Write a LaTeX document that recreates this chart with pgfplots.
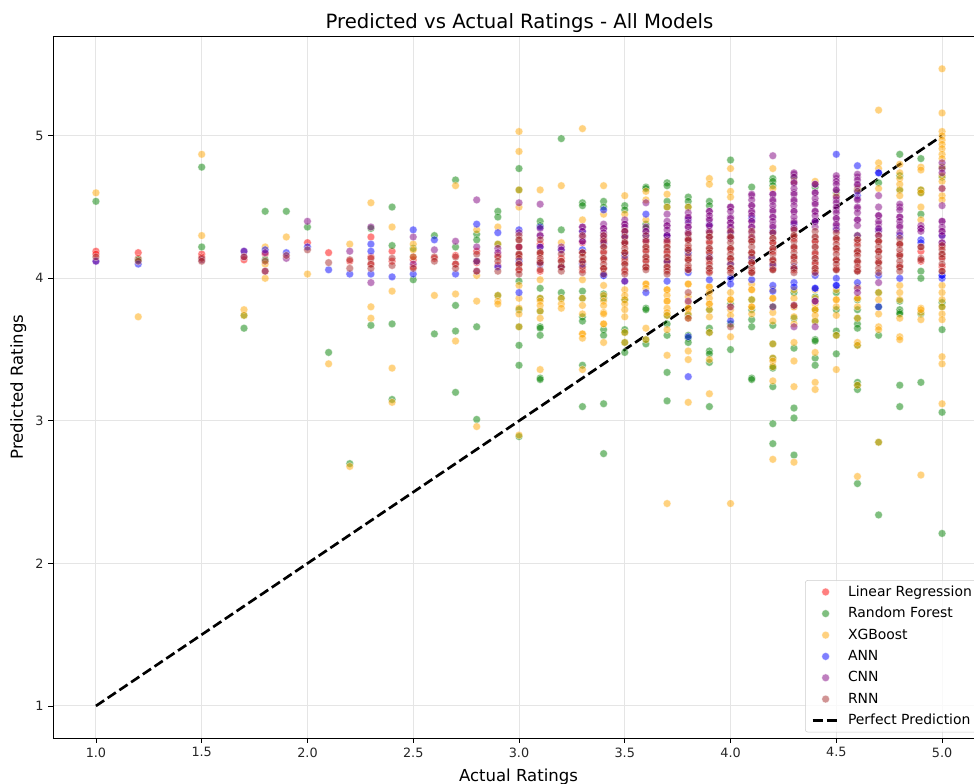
\documentclass[border=0pt]{standalone}
\usepackage{pgfplots}
\pgfplotsset{compat=1.18}
\usepackage{fontspec}
\setmainfont{DejaVu Sans}
\definecolor{cgreen}{HTML}{008000}
\definecolor{corange}{HTML}{FFA500}
\definecolor{cpurple}{HTML}{800080}
\definecolor{cbrown}{HTML}{A52A2A}
\pgfplotsset{pt/.style={only marks, mark=*, mark size=2.9pt,
  mark options={fill=#1, draw=white, line width=.4pt, fill opacity=.5, draw opacity=.5}}}
\begin{document}
\begin{tikzpicture}
\path[use as bounding box] (-39.75pt,-33.75pt) rectangle (690.75pt,553.5pt);
\begin{axis}[
  scale only axis, width=690.75pt, height=526.5pt,
  xmin=0.797, xmax=5.151, ymin=0.775, ymax=5.70,
  axis x line*=box, axis y line*=left,
  axis line style={line width=.55pt},
  xtick pos=bottom,
  tick align=outside, tick style={black, line width=.55pt}, major tick length=3.6pt,
  xtick={1,1.5,2,2.5,3,3.5,4,4.5,5}, ytick={1,2,3,4,5},
  xticklabel style={/pgf/number format/.cd, fixed, fixed zerofill, precision=1},
  /pgf/number format/assume math mode=true,
  ticklabel style={font=\fontsize{9.6pt}{11pt}\selectfont, color=black!85},
  grid=major, grid style={line width=.7pt, color=black!10},
  title={Predicted vs Actual Ratings - All Models},
  title style={font=\fontsize{14.75pt}{17pt}\selectfont, yshift=-7.25pt, xshift=4.5pt},
  xlabel={Actual Ratings}, ylabel={Predicted Ratings},
  xlabel style={yshift=-2pt, xshift=3.75pt},
  label style={font=\fontsize{12.4pt}{15pt}\selectfont},
  legend cell align=left,
  legend image code/.code={\draw[mark repeat=2,mark phase=2,#1] plot coordinates {(0cm,0cm) (0.34cm,0cm) (0.68cm,0cm)};},
  legend style={at={(rel axis cs:0.8165,0.225)}, anchor=north west,
    draw=black!20, fill=white, fill opacity=.8, text opacity=1, rounded corners=2pt,
    font=\fontsize{10.45pt}{16pt}\selectfont, row sep=2.8pt, inner xsep=4.6pt, inner ysep=2pt,
    /tikz/every odd column/.append style={column sep=4.1pt}},
]
\addplot[pt=red] table {
x y
1.0 4.19
1.0 4.17
1.2 4.18
1.2 4.14
1.5 4.17
1.5 4.15
1.7 4.13
1.8 4.17
2.0 4.25
2.1 4.18
2.2 4.12
2.3 4.29
2.3 4.15
2.3 4.10
2.4 4.19
2.4 4.12
2.5 4.13
2.5 4.08
2.6 4.14
2.7 4.16
2.7 4.10
2.8 4.19
2.8 4.11
2.9 4.16
2.9 4.09
3.0 4.22
3.0 4.16
3.0 4.10
3.0 4.06
3.1 4.24
3.1 4.17
3.1 4.12
3.1 4.05
3.2 4.14
3.2 4.08
3.3 4.25
3.3 4.18
3.3 4.11
3.3 4.06
3.4 4.27
3.4 4.19
3.4 4.13
3.4 4.07
3.5 4.24
3.5 4.18
3.5 4.12
3.5 4.05
3.6 4.26
3.6 4.20
3.6 4.13
3.6 4.08
3.7 4.25
3.7 4.18
3.7 4.11
3.7 4.06
3.8 4.27
3.8 4.21
3.8 4.14
3.8 4.07
3.9 4.26
3.9 4.19
3.9 4.12
3.9 4.05
4.0 4.28
4.0 4.20
4.0 4.13
4.0 4.06
4.1 4.27
4.1 4.18
4.1 4.11
4.1 4.05
4.2 4.25
4.2 4.19
4.2 4.12
4.2 4.07
4.3 4.28
4.3 4.21
4.3 4.14
4.3 4.06
4.4 4.26
4.4 4.17
4.4 4.10
4.4 4.05
4.5 4.27
4.5 4.20
4.5 4.13
4.5 4.07
4.6 4.25
4.6 4.18
4.6 4.11
4.6 4.06
4.7 4.26
4.7 4.19
4.7 4.12
4.8 4.24
4.8 4.17
4.8 4.09
4.9 4.19
4.9 4.12
5.0 4.22
5.0 4.15
5.0 4.08
};
\addlegendentry{Linear Regression}
\addplot[pt=cgreen] table {
x y
1.0 4.54
1.5 4.78
1.5 4.22
1.2 4.13
1.7 3.74
1.7 3.65
1.8 4.47
1.8 4.13
1.9 4.47
2.0 4.36
2.1 3.48
2.2 2.70
2.3 4.35
2.3 3.67
2.4 4.50
2.4 4.23
2.4 3.68
2.4 3.15
2.5 3.99
2.5 4.21
2.6 4.30
2.6 3.61
2.7 4.69
2.7 4.22
2.7 3.81
2.7 3.63
2.7 3.20
2.8 4.31
2.8 3.66
2.8 3.01
2.8 4.27
2.9 4.47
2.9 4.43
2.9 4.24
2.9 3.88
3.0 4.77
3.0 4.62
3.0 3.98
3.0 3.78
3.0 3.66
3.0 3.53
3.0 3.39
3.0 2.89
3.1 4.40
3.1 4.37
3.1 3.93
3.1 3.86
3.1 3.77
3.1 3.66
3.1 3.65
3.1 3.60
3.1 3.30
3.1 3.29
3.2 4.98
3.2 4.34
3.2 3.90
3.2 3.86
3.3 4.53
3.3 4.51
3.3 3.91
3.3 3.86
3.3 3.73
3.3 3.70
3.3 3.39
3.3 3.10
3.4 4.54
3.4 4.50
3.4 3.89
3.4 3.86
3.4 3.64
3.4 3.60
3.4 3.12
3.4 2.77
3.5 4.51
3.5 4.48
3.5 3.85
3.5 3.64
3.5 3.62
3.5 3.55
3.5 3.48
3.6 4.64
3.6 4.63
3.6 4.38
3.6 4.35
3.6 3.79
3.6 3.78
3.6 3.57
3.6 3.54
3.7 4.67
3.7 4.65
3.7 4.54
3.7 4.50
3.7 3.74
3.7 3.68
3.7 3.60
3.7 3.34
3.7 3.14
3.8 4.57
3.8 4.54
3.8 4.50
3.8 3.60
3.8 3.58
3.8 3.55
3.8 3.74
3.9 4.54
3.9 4.51
3.9 3.78
3.9 3.65
3.9 3.62
3.9 3.49
3.9 3.47
3.9 3.41
3.9 3.10
4.0 4.83
4.0 4.68
4.0 3.82
4.0 3.68
4.0 3.50
4.1 4.64
4.1 3.85
4.1 3.78
4.1 3.71
4.1 3.66
4.1 3.30
4.1 3.29
4.2 4.70
4.2 4.68
4.2 4.65
4.2 3.80
4.2 3.67
4.2 3.54
4.2 3.44
4.2 3.38
4.2 3.37
4.2 3.24
4.2 2.98
4.2 2.84
4.3 4.71
4.3 3.90
4.3 3.72
4.3 3.51
4.3 3.09
4.3 3.02
4.3 2.76
4.4 4.64
4.4 3.87
4.4 3.78
4.4 3.70
4.4 3.57
4.4 3.56
4.4 3.44
4.4 3.39
4.5 4.60
4.5 3.90
4.5 3.78
4.5 3.63
4.5 3.60
4.5 3.47
4.6 4.62
4.6 3.85
4.6 3.78
4.6 3.72
4.6 3.68
4.6 3.65
4.6 3.53
4.6 3.27
4.6 3.25
4.6 3.22
4.6 2.56
4.7 4.67
4.7 3.90
4.7 3.80
4.7 3.60
4.7 2.85
4.7 2.34
4.8 4.87
4.8 4.72
4.8 4.62
4.8 3.84
4.8 3.78
4.8 3.76
4.8 3.75
4.8 3.25
4.8 3.10
4.9 4.84
4.9 4.62
4.9 4.60
4.9 4.45
4.9 4.05
4.9 4.00
4.9 3.75
4.9 3.27
5.0 4.78
5.0 4.71
5.0 3.83
5.0 3.80
5.0 3.64
5.0 3.06
5.0 2.21
};
\addlegendentry{Random Forest}
\addplot[pt=corange] table {
x y
1.0 4.60
1.2 3.73
1.5 4.87
1.5 4.30
1.7 3.78
1.7 3.74
1.8 4.22
1.8 4.10
1.8 4.00
1.9 4.29
2.0 4.03
2.1 3.40
2.2 4.24
2.2 2.68
2.3 4.53
2.3 3.80
2.3 3.72
2.4 4.36
2.4 3.91
2.4 3.37
2.4 3.13
2.5 4.24
2.5 4.20
2.5 4.15
2.6 3.88
2.7 4.65
2.7 3.89
2.7 3.56
2.8 4.34
2.8 4.02
2.8 3.84
2.8 2.96
2.9 4.36
2.9 4.24
2.9 3.88
2.9 3.84
2.9 3.82
3.0 5.03
3.0 4.89
3.0 4.62
3.0 4.50
3.0 3.95
3.0 3.86
3.0 3.79
3.0 3.75
3.0 3.66
3.0 2.90
3.1 4.62
3.1 3.99
3.1 3.86
3.1 3.84
3.1 3.81
3.1 3.77
3.1 3.72
3.1 3.36
3.2 4.65
3.2 4.25
3.2 3.86
3.2 3.82
3.2 3.79
3.3 5.05
3.3 4.41
3.3 3.99
3.3 3.86
3.3 3.81
3.3 3.75
3.3 3.61
3.3 3.61
3.3 3.58
3.3 3.36
3.4 4.65
3.4 4.45
3.4 3.95
3.4 3.88
3.4 3.84
3.4 3.81
3.4 3.76
3.4 3.75
3.4 3.68
3.4 3.68
3.4 3.55
3.5 4.58
3.5 4.45
3.5 3.92
3.5 3.88
3.5 3.85
3.5 3.82
3.5 3.78
3.5 3.73
3.5 3.62
3.5 3.55
3.6 4.61
3.6 4.55
3.6 4.41
3.6 3.96
3.6 3.96
3.6 3.93
3.6 3.65
3.6 3.57
3.7 4.59
3.7 4.50
3.7 3.92
3.7 3.92
3.7 3.88
3.7 3.84
3.7 3.84
3.7 3.79
3.7 3.76
3.7 3.74
3.7 3.64
3.7 3.46
3.7 2.42
3.8 4.50
3.8 3.96
3.8 3.96
3.8 3.87
3.8 3.83
3.8 3.79
3.8 3.79
3.8 3.75
3.8 3.72
3.8 3.49
3.8 3.43
3.8 3.13
3.9 4.70
3.9 4.66
3.9 3.94
3.9 3.94
3.9 3.90
3.9 3.86
3.9 3.82
3.9 3.82
3.9 3.78
3.9 3.73
3.9 3.62
3.9 3.43
3.9 3.19
4.0 4.77
4.0 4.61
4.0 4.57
4.0 3.90
4.0 3.85
4.0 3.85
4.0 3.80
4.0 3.78
4.0 3.74
4.0 3.59
4.0 2.42
4.1 3.96
4.1 3.92
4.1 3.92
4.1 3.85
4.1 3.80
4.1 3.80
4.1 3.75
4.2 4.77
4.2 4.63
4.2 3.92
4.2 3.86
4.2 3.86
4.2 3.76
4.2 3.70
4.2 3.54
4.2 3.44
4.2 3.42
4.2 3.38
4.2 3.28
4.2 2.73
4.3 4.68
4.3 3.92
4.3 3.86
4.3 3.80
4.3 3.80
4.3 3.73
4.3 3.68
4.3 3.55
4.3 3.42
4.3 3.24
4.3 2.71
4.4 4.68
4.4 3.92
4.4 3.86
4.4 3.82
4.4 3.78
4.4 3.78
4.4 3.74
4.4 3.70
4.4 3.48
4.4 3.27
4.4 3.22
4.5 4.58
4.5 3.92
4.5 3.85
4.5 3.85
4.5 3.80
4.5 3.74
4.5 3.60
4.5 3.36
4.6 4.63
4.6 3.94
4.6 3.86
4.6 3.86
4.6 3.80
4.6 3.72
4.6 3.55
4.6 3.53
4.6 3.25
4.6 2.61
4.7 5.18
4.7 4.81
4.7 4.77
4.7 4.63
4.7 3.90
4.7 3.85
4.7 3.75
4.7 3.66
4.7 3.64
4.7 2.85
4.8 4.80
4.8 4.74
4.8 4.70
4.8 4.66
4.8 4.62
4.8 4.58
4.8 3.95
4.8 3.90
4.8 3.85
4.8 3.72
4.8 3.59
4.8 3.57
4.9 4.78
4.9 4.76
4.9 4.62
4.9 4.60
4.9 4.50
4.9 4.41
4.9 3.79
4.9 3.76
4.9 3.78
4.9 3.71
4.9 2.62
5.0 5.47
5.0 5.16
5.0 5.03
5.0 5.00
5.0 4.97
5.0 4.94
5.0 4.91
5.0 4.87
5.0 4.84
5.0 4.78
5.0 4.72
5.0 4.68
5.0 4.63
5.0 4.58
5.0 4.55
5.0 3.95
5.0 3.90
5.0 3.85
5.0 3.80
5.0 3.75
5.0 3.71
5.0 3.45
5.0 3.40
5.0 3.12
};
\addlegendentry{XGBoost}
\addplot[pt=blue] table {
x y
1.0 4.12
1.2 4.10
1.7 4.19
1.8 4.20
1.9 4.18
2.0 4.22
2.1 4.06
2.2 4.03
2.3 4.24
2.3 4.19
2.3 4.03
2.4 4.01
2.5 4.34
2.5 4.03
2.6 4.27
2.7 4.03
2.8 4.38
2.8 4.12
2.9 4.32
2.9 4.08
3.0 4.34
3.0 4.12
3.0 3.90
3.1 4.36
3.1 4.22
3.1 4.10
3.2 4.20
3.2 4.08
3.3 4.33
3.3 4.20
3.3 4.10
3.4 4.48
3.4 4.24
3.4 4.02
3.4 4.02
3.5 4.30
3.5 4.16
3.5 3.98
3.6 4.45
3.6 4.30
3.6 3.90
3.7 4.30
3.7 4.30
3.7 4.12
3.7 3.98
3.8 4.41
3.8 4.18
3.8 4.04
3.8 3.59
3.8 3.31
3.9 4.38
3.9 4.15
3.9 3.99
4.0 4.32
4.0 4.10
4.0 4.00
4.0 3.96
4.0 3.70
4.1 4.42
4.1 4.14
4.1 3.99
4.2 4.33
4.2 4.09
4.2 3.95
4.2 3.91
4.3 4.38
4.3 4.08
4.3 3.97
4.3 3.94
4.4 4.40
4.4 4.02
4.4 3.93
4.4 3.93
4.5 4.87
4.5 4.35
4.5 4.00
4.5 3.95
4.5 3.95
4.6 4.79
4.6 4.58
4.6 4.30
4.6 3.97
4.7 4.74
4.7 4.74
4.7 4.34
4.7 4.02
4.7 3.80
4.8 4.30
4.8 4.00
4.9 4.27
4.9 4.25
5.0 4.30
5.0 4.02
5.0 4.00
5.0 4.02
};
\addlegendentry{ANN}
\addplot[pt=cpurple, forget plot] table {
x y
3.1 4.30
3.3 4.36
3.3 4.26
3.4 4.35
3.4 4.30
3.5 4.38
3.5 4.33
3.6 4.33
3.7 4.37
3.7 4.30
3.8 4.42
3.8 4.36
3.8 4.32
3.9 4.47
3.9 4.42
3.9 4.37
3.9 4.33
4.0 4.50
4.0 4.43
4.0 4.39
4.0 4.35
4.1 4.58
4.1 4.51
4.1 4.46
4.1 4.40
4.1 4.36
4.2 4.59
4.2 4.54
4.2 4.48
4.2 4.43
4.2 4.37
4.3 4.73
4.3 4.67
4.3 4.60
4.3 4.54
4.3 4.47
4.3 4.40
4.3 4.35
4.4 4.66
4.4 4.60
4.4 4.53
4.4 4.47
4.4 4.40
4.4 3.84
4.5 4.70
4.5 4.62
4.5 4.55
4.5 4.48
4.5 4.42
4.5 4.37
4.6 4.71
4.6 4.65
4.6 4.56
4.6 4.49
4.6 4.41
4.7 4.44
4.7 4.38
4.7 4.33
4.8 4.50
4.8 4.43
4.8 4.37
4.9 4.35
5.0 4.40
5.0 4.33
5.0 4.25
};
\addplot[pt=cpurple] table {
x y
1.0 4.12
1.5 4.13
1.7 4.19
1.7 4.15
1.8 4.18
1.8 4.05
1.9 4.14
2.0 4.40
2.2 4.19
2.3 4.36
2.3 3.97
2.5 4.29
2.5 4.10
2.6 4.20
2.7 4.26
2.8 4.55
2.8 4.22
2.8 4.05
2.9 4.21
2.9 4.18
3.0 4.53
3.0 4.32
3.0 4.22
3.1 4.52
3.1 4.35
3.1 4.30
3.1 4.22
3.2 4.22
3.2 4.20
3.3 4.36
3.3 4.33
3.3 4.29
3.3 4.26
3.4 4.38
3.4 4.35
3.4 4.32
3.4 4.28
3.4 4.25
3.5 4.41
3.5 4.38
3.5 4.36
3.5 4.33
3.5 4.29
3.5 4.25
3.5 3.98
3.6 4.53
3.6 4.36
3.6 4.33
3.6 4.27
3.7 4.45
3.7 4.40
3.7 4.37
3.7 4.34
3.7 4.30
3.7 4.27
3.8 4.46
3.8 4.43
3.8 4.39
3.8 4.36
3.8 4.32
3.8 4.28
3.8 3.84
3.9 4.47
3.9 4.44
3.9 4.41
3.9 4.37
3.9 4.33
3.9 4.29
4.0 4.50
4.0 4.47
4.0 4.42
4.0 4.39
4.0 4.36
4.0 4.32
4.0 4.28
4.0 3.80
4.1 4.59
4.1 4.55
4.1 4.51
4.1 4.47
4.1 4.44
4.1 4.40
4.1 4.36
4.1 4.32
4.1 4.28
4.2 4.86
4.2 4.59
4.2 4.55
4.2 4.51
4.2 4.47
4.2 4.43
4.2 4.40
4.2 4.36
4.2 4.32
4.2 3.80
4.3 4.74
4.3 4.71
4.3 4.67
4.3 4.63
4.3 4.59
4.3 4.55
4.3 4.51
4.3 4.47
4.3 4.43
4.3 4.39
4.3 4.35
4.3 3.81
4.3 3.66
4.4 4.66
4.4 4.60
4.4 4.56
4.4 4.52
4.4 4.47
4.4 4.44
4.4 4.40
4.4 4.36
4.4 3.84
4.4 3.66
4.5 4.72
4.5 4.68
4.5 4.66
4.5 4.62
4.5 4.57
4.5 4.53
4.5 4.50
4.5 4.46
4.5 4.42
4.5 4.38
4.5 4.34
4.6 4.73
4.6 4.69
4.6 4.66
4.6 4.61
4.6 4.55
4.6 4.50
4.6 4.46
4.6 4.41
4.6 4.37
4.6 3.93
4.6 3.90
4.7 4.58
4.7 4.50
4.7 4.44
4.7 4.40
4.7 4.35
4.7 4.30
4.7 3.97
4.8 4.52
4.8 4.48
4.8 4.43
4.8 4.40
4.8 4.36
4.8 4.32
4.9 4.37
4.9 4.35
4.9 4.33
5.0 4.81
5.0 4.77
5.0 4.74
5.0 4.63
5.0 4.51
5.0 4.40
5.0 4.36
5.0 4.33
5.0 4.30
5.0 4.25
};
\addlegendentry{CNN}
\addplot[pt=cbrown, forget plot] table {
x y
3.0 4.27
3.0 4.17
3.0 4.10
3.1 4.18
3.1 4.11
3.2 4.12
3.2 4.08
3.3 4.18
3.3 4.12
3.4 4.22
3.4 4.14
3.4 4.07
3.5 4.25
3.5 4.18
3.5 4.10
3.6 4.22
3.6 4.15
3.6 4.08
3.7 4.22
3.7 4.15
3.7 4.08
3.8 4.27
3.8 4.20
3.8 4.13
3.8 4.06
3.9 4.29
3.9 4.21
3.9 4.14
3.9 4.07
4.0 4.29
4.0 4.21
4.0 4.14
4.0 4.07
4.1 4.26
4.1 4.18
4.1 4.11
4.1 4.04
4.2 4.28
4.2 4.21
4.2 4.13
4.2 4.06
4.3 4.30
4.3 4.22
4.3 4.15
4.3 4.07
4.4 4.29
4.4 4.22
4.4 4.14
4.4 4.07
4.5 4.28
4.5 4.21
4.5 4.13
4.5 4.06
4.6 4.27
4.6 4.19
4.6 4.12
4.6 4.05
4.7 4.26
4.7 4.19
4.7 4.11
4.8 4.24
4.8 4.16
4.8 4.08
4.9 4.22
5.0 4.17
5.0 4.05
};
\addplot[pt=cbrown] table {
x y
1.0 4.15
1.2 4.12
1.5 4.14
1.5 4.12
1.7 4.15
1.8 4.12
1.8 4.05
1.9 4.16
2.0 4.20
2.1 4.11
2.2 4.13
2.2 4.07
2.3 4.14
2.3 4.10
2.3 4.07
2.4 4.14
2.4 4.09
2.5 4.15
2.5 4.07
2.6 4.15
2.6 4.12
2.7 4.15
2.7 4.10
2.7 4.07
2.8 4.17
2.8 4.12
2.8 4.05
2.9 4.15
2.9 4.12
2.9 4.05
3.0 4.30
3.0 4.27
3.0 4.22
3.0 4.17
3.0 4.14
3.0 4.10
3.0 4.06
3.0 4.03
3.1 4.27
3.1 4.18
3.1 4.14
3.1 4.11
3.1 4.06
3.2 4.17
3.2 4.12
3.2 4.08
3.2 4.05
3.3 4.30
3.3 4.18
3.3 4.15
3.3 4.12
3.3 4.08
3.3 4.04
3.4 4.30
3.4 4.26
3.4 4.22
3.4 4.18
3.4 4.14
3.4 4.10
3.4 4.07
3.4 4.03
3.5 4.33
3.5 4.29
3.5 4.25
3.5 4.21
3.5 4.18
3.5 4.14
3.5 4.10
3.5 4.06
3.5 4.03
3.6 4.30
3.6 4.26
3.6 4.22
3.6 4.19
3.6 4.15
3.6 4.12
3.6 4.08
3.6 4.06
3.7 4.26
3.7 4.22
3.7 4.19
3.7 4.15
3.7 4.12
3.7 4.08
3.7 4.05
3.7 4.03
3.8 4.31
3.8 4.27
3.8 4.23
3.8 4.20
3.8 4.16
3.8 4.13
3.8 4.09
3.8 4.06
3.8 3.90
3.8 3.72
3.9 4.32
3.9 4.29
3.9 4.25
3.9 4.21
3.9 4.18
3.9 4.14
3.9 4.10
3.9 4.07
3.9 4.04
4.0 4.33
4.0 4.29
4.0 4.25
4.0 4.21
4.0 4.17
4.0 4.14
4.0 4.10
4.0 4.07
4.0 4.04
4.0 3.66
4.1 4.33
4.1 4.29
4.1 4.26
4.1 4.22
4.1 4.18
4.1 4.15
4.1 4.11
4.1 4.07
4.1 4.04
4.2 4.32
4.2 4.28
4.2 4.25
4.2 4.21
4.2 4.17
4.2 4.13
4.2 4.10
4.2 4.06
4.3 4.34
4.3 4.30
4.3 4.26
4.3 4.22
4.3 4.18
4.3 4.15
4.3 4.11
4.3 4.07
4.3 4.04
4.3 3.81
4.4 4.33
4.4 4.29
4.4 4.26
4.4 4.22
4.4 4.18
4.4 4.14
4.4 4.11
4.4 4.07
4.4 4.04
4.5 4.32
4.5 4.28
4.5 4.24
4.5 4.21
4.5 4.17
4.5 4.13
4.5 4.10
4.5 4.06
4.6 4.30
4.6 4.27
4.6 4.23
4.6 4.19
4.6 4.16
4.6 4.12
4.6 4.08
4.6 4.05
4.7 4.30
4.7 4.26
4.7 4.22
4.7 4.19
4.7 4.15
4.7 4.11
4.7 4.07
4.7 4.04
4.8 4.28
4.8 4.24
4.8 4.20
4.8 4.16
4.8 4.12
4.8 4.08
4.8 4.05
4.9 4.22
4.9 4.14
4.9 4.13
5.0 4.23
5.0 4.20
5.0 4.17
5.0 4.14
5.0 4.10
5.0 4.05
};
\addlegendentry{RNN}
\addplot[black, line width=2pt, dash pattern=on 7.4pt off 3.2pt] coordinates {(1,1) (5,5)};
\addlegendentry{Perfect Prediction}
\end{axis}
\end{tikzpicture}
\end{document}
